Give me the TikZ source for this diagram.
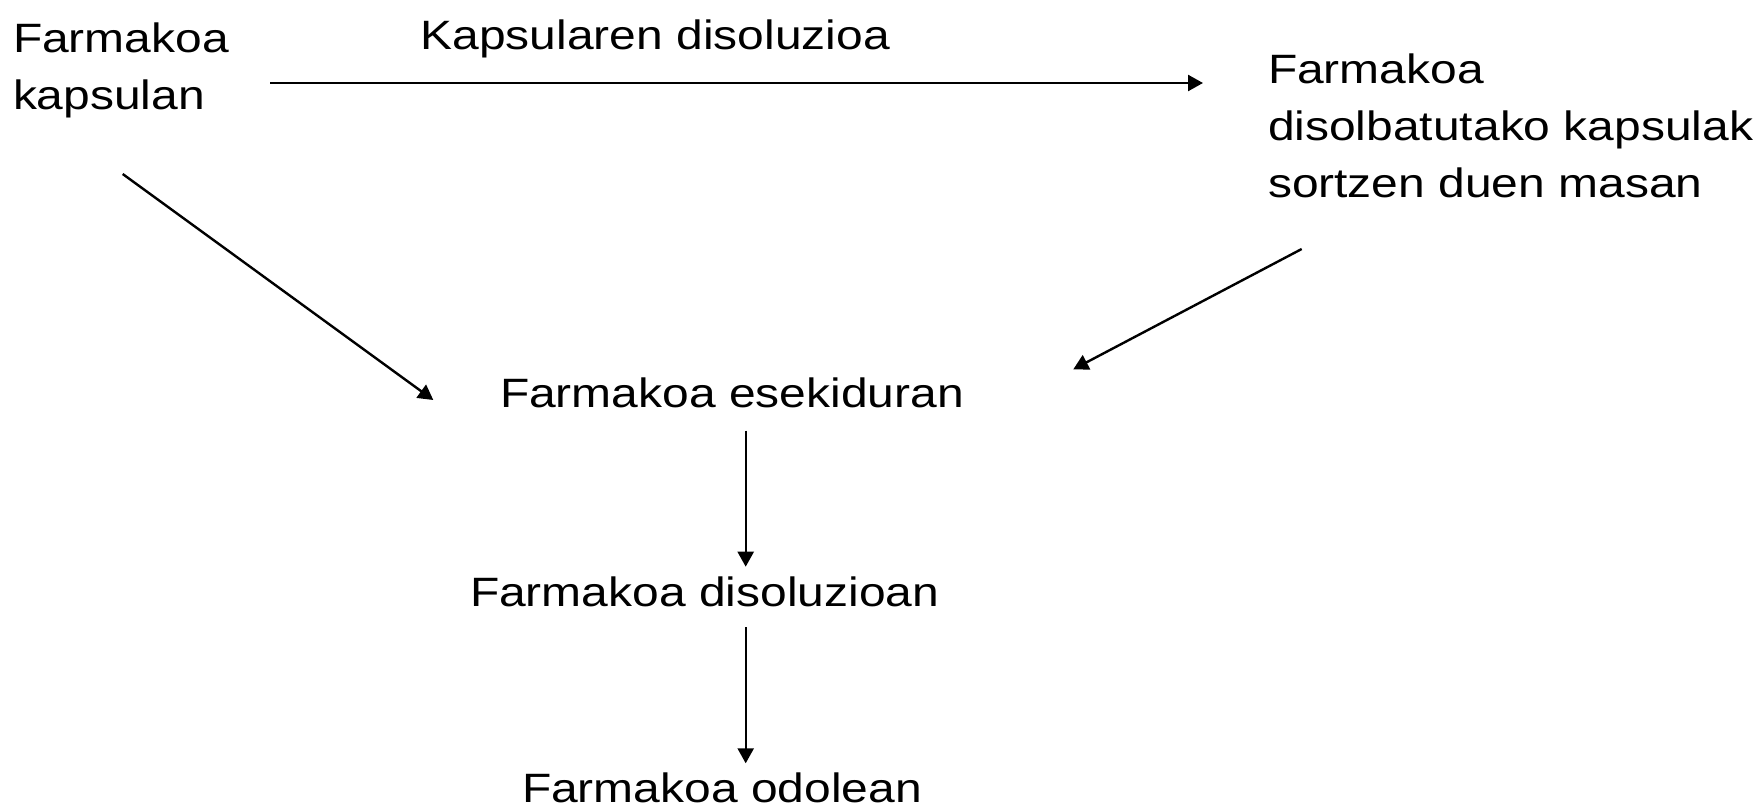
\documentclass[tikz,border=0pt]{standalone}
\usepackage{fontspec}
\setmainfont{Liberation Sans}[FakeStretch=1.17]
\usetikzlibrary{arrows.meta}
\tikzset{
  txt/.style={inner sep=0pt, outer sep=0pt, font=\fontsize{20.5}{28.5}\selectfont, align=left, text=black},
  conn/.style={line width=1.2pt, draw=black, -{Triangle[length=7.5pt,width=8pt]}}
}
\begin{document}
\begin{tikzpicture}[x=0.5pt,y=-0.5pt]
\useasboundingbox (0,0) rectangle (1761,808);
% texts
\node[txt, anchor=north west] (cap) at (13,22.5) {Farmakoa\\kapsulan};
\node[txt, anchor=base west] (lbl) at (420.5,49.5) {Kapsularen disoluzioa};
\node[txt, anchor=north west] (mass) at (1268,53.6) {Farmakoa\\disolbatutako kapsulak\\sortzen duen masan};
\node[txt, anchor=base west] (susp) at (500,407.5) {Farmakoa esekiduran};
\node[txt, anchor=base west] (sol) at (470,606.5) {Farmakoa disoluzioan};
\node[txt, anchor=base west] (blood) at (522,802.5) {Farmakoa odolean};
% connector ends
\coordinate (h1) at (270,83);
\coordinate (h2) at (1203,83);
\coordinate (l1) at (122.7,174);
\coordinate (l2) at (433.3,400);
\coordinate (r1) at (1301.7,249);
\coordinate (r2) at (1073.3,369.3);
\coordinate (v1a) at (745.7,430.7);
\coordinate (v1b) at (745.7,566.7);
\coordinate (v2a) at (745.7,627.3);
\coordinate (v2b) at (745.7,763.3);
% connectors
\draw[conn] (h1) -- (h2);
\draw[conn] (l1) -- (l2);
\draw[conn] (r1) -- (r2);
\draw[conn] (v1a) -- (v1b);
\draw[conn] (v2a) -- (v2b);
\end{tikzpicture}
\end{document}
